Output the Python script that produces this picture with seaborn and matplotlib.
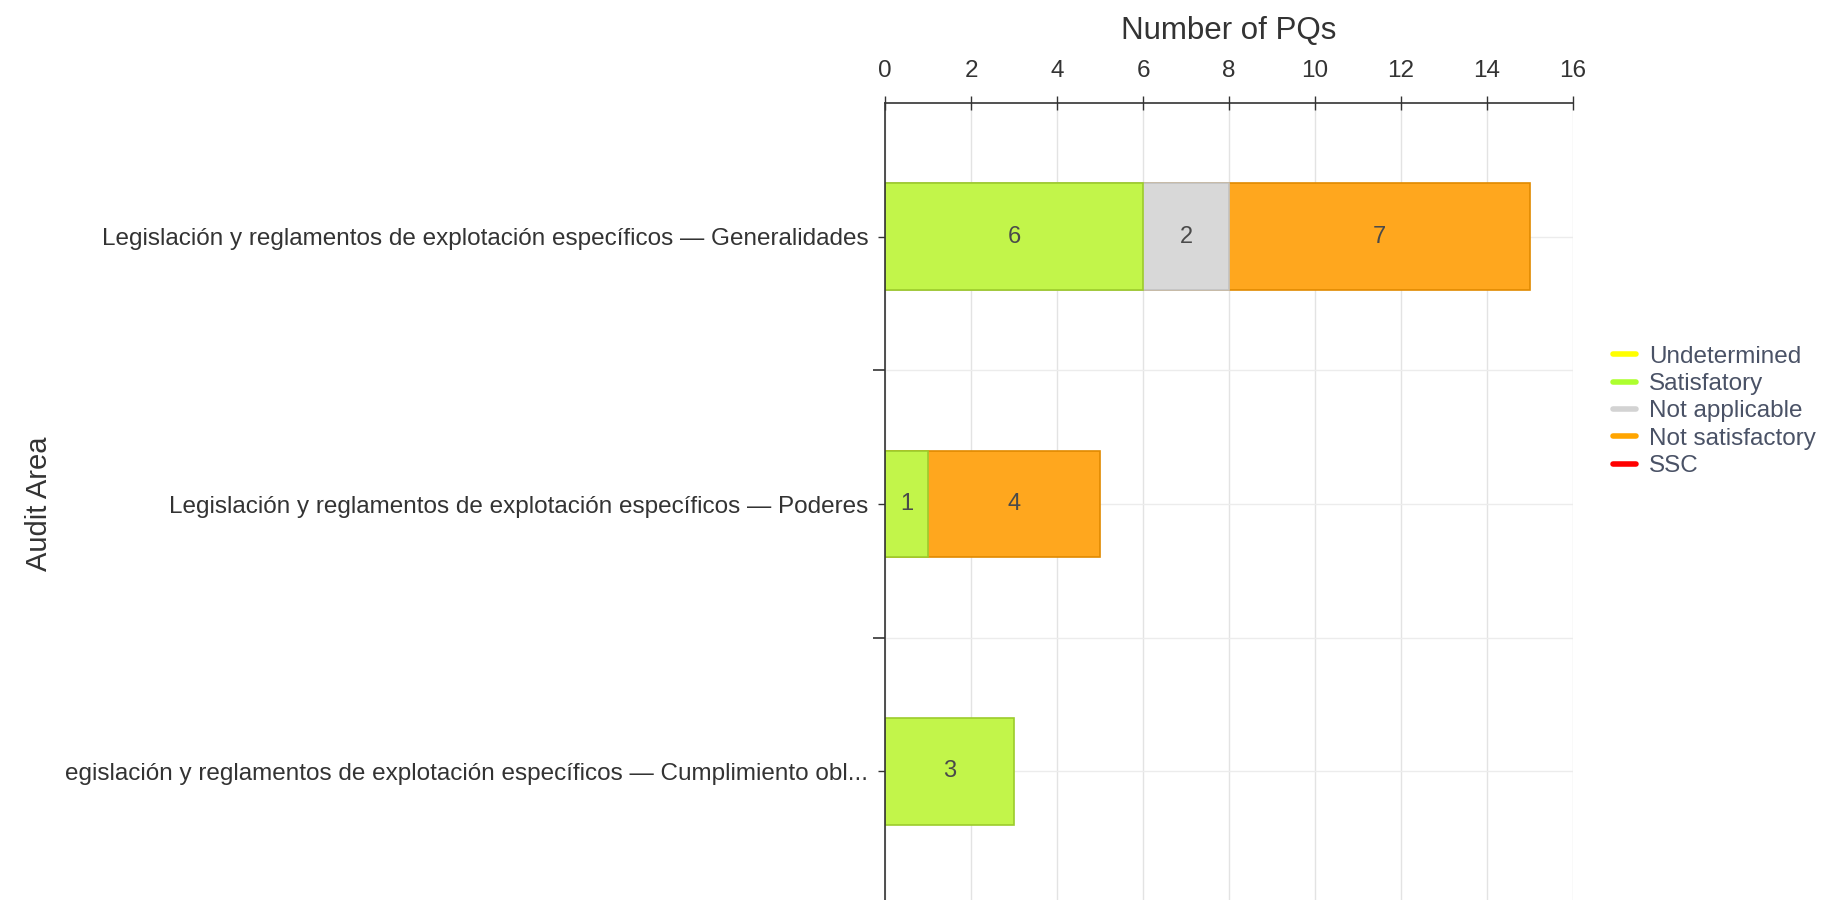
import numpy as np
import pandas as pd
import matplotlib
matplotlib.use("Agg")
import matplotlib.pyplot as plt
from matplotlib.lines import Line2D
from matplotlib.ticker import FixedLocator
import seaborn as sns

# ---- data ----
categories = [
    "Legislación y reglamentos de explotación específicos — Generalidades",
    "Legislación y reglamentos de explotación específicos — Poderes",
    "egislación y reglamentos de explotación específicos — Cumplimiento obl...",
]
series_names = ["Undetermined", "Satisfatory", "Not applicable", "Not satisfactory", "SSC"]
undetermined = [0, 0, 0]
satisfactory = [6, 1, 3]
not_applicable = [2, 0, 0]
not_satisfactory = [7, 4, 0]
ssc = [0, 0, 0]
series_values = [undetermined, satisfactory, not_applicable, not_satisfactory, ssc]
x_ticks = [0, 2, 4, 6, 8, 10, 12, 14, 16]

bar_colors = ["#ffff33", "#c2f54a", "#d8d8d8", "#ffa71e", "#ee1111"]
edge_colors = ["#d8d800", "#9ccc2c", "#c2c2c2", "#e08a00", "#bb0000"]
legend_colors = ["#ffff00", "#adff2f", "#d3d3d3", "#ffa500", "#ff0000"]

sns.set_theme(style="white")
plt.rcParams["font.family"] = ["Liberation Sans", "DejaVu Sans"]

fig = plt.figure(figsize=(18.3, 9.0), dpi=100)
ax = fig.add_axes([885 / 1830, (900 - 905) / 900, 688 / 1830, 802 / 900])

# long table with cumulative ends
rows = []
for si, (name, vals) in enumerate(zip(series_names, series_values)):
    cum_before = np.sum([series_values[k] for k in range(si)], axis=0) if si > 0 else np.zeros(len(categories))
    for ci, cat in enumerate(categories):
        rows.append(dict(area=cat, series=name, sidx=si, value=vals[ci],
                         start=cum_before[ci], end=cum_before[ci] + vals[ci]))
df = pd.DataFrame(rows)

# draw stacked bars by overlaying cumulative totals (last series first)
for si in reversed(range(len(series_names))):
    sub = df[(df.sidx == si) & (df.value > 0)]
    if sub.empty:
        continue
    sns.barplot(data=sub, x="end", y="area", order=categories, orient="h",
                color=bar_colors[si], width=0.4, ax=ax, errorbar=None,
                edgecolor=edge_colors[si], linewidth=1.2, saturation=1)

# value labels in segment centers
for _, r in df[df.value > 0].iterrows():
    ax.text((r.start + r.end) / 2, categories.index(r.area), f"{r.value:g}",
            ha="center", va="center", fontsize=17, color="#4a4a4a")

ax.set_xlim(0, 16)
ax.set_ylim(2.5, -0.5)
ax.xaxis.set_major_locator(FixedLocator(x_ticks))
ax.xaxis.tick_top()
ax.xaxis.set_label_position("top")
ax.set_xlabel("Number of PQs", fontsize=22.5, color="#333333", labelpad=15)
ax.set_ylabel("Audit Area", fontsize=21, color="#333333")
ax.yaxis.set_label_coords(-1.209, 0.5)
ax.yaxis.set_minor_locator(FixedLocator([0.5, 1.5]))

ax.tick_params(axis="x", which="major", top=True, bottom=False, direction="inout",
               length=10, width=1, color="#333333", labelsize=17.5, labelcolor="#333333", pad=10)
ax.tick_params(axis="y", which="major", left=True, direction="out", length=5, width=1,
               color="#333333", labelsize=17.5, labelcolor="#333333", pad=7)
ax.tick_params(axis="y", which="minor", left=True, direction="out", length=9, width=1.2,
               color="#333333")

ax.grid(True, axis="x", which="major", color="#e3e3e3", linewidth=1)
ax.grid(True, axis="y", which="both", color="#ececec", linewidth=1)
ax.set_axisbelow(True)

for side in ["right", "bottom"]:
    ax.spines[side].set_visible(False)
for side in ["left", "top"]:
    ax.spines[side].set_visible(True)
    ax.spines[side].set_color("#333333")
    ax.spines[side].set_linewidth(1.2)

handles = [Line2D([0], [0], color=c, lw=4) for c in legend_colors]
leg = fig.legend(handles, series_names, loc="upper left",
                 bbox_to_anchor=(1603 / 1830, 1 - 336 / 900), frameon=False,
                 fontsize=17.5, handlelength=0.95, handletextpad=0.55, labelspacing=0.22,
                 borderaxespad=0)
for t in leg.get_texts():
    t.set_color("#4a5266")

fig.savefig("out.png", dpi=100)
